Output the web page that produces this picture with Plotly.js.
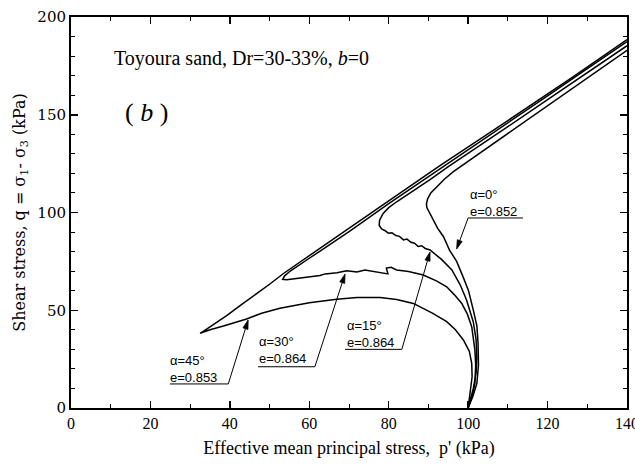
<!DOCTYPE html>
<html>
<head>
<meta charset="utf-8">
<script src="https://cdn.plot.ly/plotly-3.0.1.min.js"></script>
<style>html,body{margin:0;padding:0;background:#fff;}#chart{width:635px;height:465px;}</style>
</head>
<body>
<div id="chart"></div>
<script>
// Stress paths: effective mean principal stress p' (kPa) and shear stress q (kPa)
const alpha0_p = [100, 101.2, 102.2, 102.6, 102.5, 102.2, 101.3, 100.1, 98.7, 97.1, 95.3, 93.8, 92.3, 91.2, 90.2, 89.6, 89.5, 89.8, 90.6, 92.1, 94.0, 96.2, 98.8, 103.0, 110, 120, 130, 140];
const alpha0_q = [0, 6, 12.6, 22, 33.1, 42, 50.1, 60, 67.2, 75, 80.8, 87.6, 92, 96.2, 100, 102.5, 104.5, 107, 110, 113.2, 117, 120.8, 124.5, 130.5, 140.2, 154.3, 168.6, 183];

const alpha15_p = [100, 101.3, 102.0, 102.2, 102.0, 101.3, 99.6, 98.0, 95.9, 93.3, 90.4, 89.2, 88.3, 87.4, 86.5, 85.6, 84.6, 83.7, 82.7, 81.8, 80.8, 79.9, 79.0, 78.2, 77.6, 77.7, 78.6, 80.0, 82.0, 86.0, 90.4, 95.0, 100, 110, 120, 130, 140];
const alpha15_q = [0, 10, 18, 26, 35, 44, 55.2, 63, 70.6, 76, 80.8, 81.6, 83.0, 82.6, 84.3, 84.8, 86.4, 86.0, 87.8, 88.2, 89.6, 89.4, 90.8, 91.6, 93.5, 96, 99.5, 102.5, 105.5, 110.8, 116.8, 123.5, 130.2, 143.9, 157.7, 171.5, 185.3];

const alpha30_p = [100, 101.3, 101.7, 101.9, 101.7, 101.3, 100.9, 99.8, 98.4, 96.5, 94.6, 92.0, 88.7, 85.0, 82.0, 80.6, 79.4, 79.8, 78.6, 76.0, 74.0, 72.0, 69.4, 67.0, 64.0, 62.7, 60.0, 57.0, 54.3, 53.3, 53.8, 55.3, 57.7, 60.0, 63.0, 70.3, 80, 90, 100, 110, 120, 130, 140];
const alpha30_q = [0, 8, 12.6, 22, 29.7, 36, 41.6, 48, 53.5, 58, 62, 65, 68, 69.8, 70.6, 72.0, 71.6, 68.6, 69.0, 69.8, 70.6, 69.6, 70.2, 69.2, 68.6, 67.8, 67.2, 66.4, 65.6, 65.8, 67.6, 70.2, 73.6, 76.6, 80.6, 90.6, 104.5, 118.2, 132, 145.8, 159.7, 173.6, 187.4];

const alpha45_p = [100, 100.5, 101.0, 100.9, 100.3, 98.8, 96.8, 94.6, 91.0, 86.2, 82.0, 77.8, 72.0, 66.9, 60.0, 52.6, 48.0, 44.2, 41.0, 38.4, 35.0, 32.5, 33.5, 36.0, 39.2, 43.0, 46.8, 50.0, 53.5, 59.3, 67.7, 80, 92.9, 100, 110, 126.5, 140];
const alpha45_q = [0, 8, 16, 22.9, 29, 34.8, 40, 44.2, 48.5, 53.5, 55.5, 56.5, 56.5, 55.6, 53.8, 51, 48.5, 45.5, 43.3, 41.9, 40, 38.2, 39.5, 42.8, 47.3, 53, 58.5, 63.3, 68.8, 77, 89, 106, 124, 133.5, 147, 169.5, 188.4];

// Labels
const seriesNames = ["α=0°", "α=15°", "α=30°", "α=45°"];
const voidRatios = ["e=0.852", "e=0.864", "e=0.864", "e=0.853"];
const xTickVals = [0, 20, 40, 60, 80, 100, 120, 140];
const yTickVals = [0, 50, 100, 150, 200];

const lineStyle = {color: '#000', width: 1.5};
const traces = [
  {x: alpha0_p, y: alpha0_q, name: seriesNames[0]},
  {x: alpha15_p, y: alpha15_q, name: seriesNames[1]},
  {x: alpha30_p, y: alpha30_q, name: seriesNames[2]},
  {x: alpha45_p, y: alpha45_q, name: seriesNames[3]}
].map(t => Object.assign(t, {type: 'scatter', mode: 'lines', line: lineStyle, hoverinfo: 'skip'}));

// Label placement (data coords): text left x, text block centre y, underline, arrow tail -> tip
const labelPos = [
  {x: 100.0, yc: 105.0, u0: 100.0, u1: 113.8, uy: 97.2, tx: 100.0, ty: 97.2, hx: 97.1, hy: 81.3},
  {x: 69.0, yc: 38.0, u0: 69.0, u1: 83.3, uy: 30.0, tx: 83.3, ty: 30.0, hx: 90.4, hy: 79.8},
  {x: 46.8, yc: 29.5, u0: 47.1, u1: 61.4, uy: 21.1, tx: 61.4, ty: 21.1, hx: 69.0, hy: 68.5},
  {x: 24.4, yc: 20.0, u0: 24.9, u1: 39.6, uy: 12.3, tx: 39.6, ty: 12.3, hx: 44.6, hy: 45.0}
];

const X_RANGE = [0, 140], Y_RANGE = [0, 200];
const M = {l: 71, r: 8, t: 17, b: 57}, W = 635, H = 465;
const sx = (W - M.l - M.r) / (X_RANGE[1] - X_RANGE[0]);
const sy = (H - M.t - M.b) / (Y_RANGE[1] - Y_RANGE[0]);

const labFont = {family: 'Liberation Sans, Arial, sans-serif', size: 13, color: '#000'};
const annotations = [];
const shapes = [];
labelPos.forEach((L, i) => {
  annotations.push({x: L.x, y: L.yc, xref: 'x', yref: 'y', text: seriesNames[i] + '<br>' + voidRatios[i], align: 'left', showarrow: false, xanchor: 'left', yanchor: 'middle', font: labFont});
  shapes.push({type: 'line', xref: 'x', yref: 'y', x0: L.u0, x1: L.u1, y0: L.uy, y1: L.uy, line: {color: '#000', width: 1}});
  // arrow: shaft + filled head, computed in pixel space for correct shape
  const dx = (L.hx - L.tx) * sx, dy = (L.hy - L.ty) * sy;
  const len = Math.hypot(dx, dy), ux = dx / len, uy = dy / len;
  const hl = 9, hw = 2.6;
  const bx = -ux * hl, by = -uy * hl;
  const p1 = [L.hx + (bx - uy * hw) / sx, L.hy + (by + ux * hw) / sy];
  const p2 = [L.hx + (bx + uy * hw) / sx, L.hy + (by - ux * hw) / sy];
  const base = [L.hx + bx / sx, L.hy + by / sy];
  shapes.push({type: 'line', xref: 'x', yref: 'y', x0: L.tx, y0: L.ty, x1: base[0], y1: base[1], line: {color: '#000', width: 1}});
  shapes.push({type: 'path', xref: 'x', yref: 'y', path: `M ${L.hx} ${L.hy} L ${p1[0]} ${p1[1]} L ${p2[0]} ${p2[1]} Z`, fillcolor: '#000', line: {color: '#000', width: 0.8}});
});
annotations.push({x: 10.3, y: 179, xref: 'x', yref: 'y', text: 'Toyoura sand, Dr=30-33%, <i>b</i>=0', showarrow: false, xanchor: 'left', yanchor: 'middle', font: {family: 'Liberation Serif, Times New Roman, serif', size: 20, color: '#000'}});
annotations.push({x: 13.1, y: 151.4, xref: 'x', yref: 'y', text: '( <i>b</i> )', showarrow: false, xanchor: 'left', yanchor: 'middle', font: {family: 'Liberation Serif, Times New Roman, serif', size: 26, color: '#000'}});

const axisCommon = {
  showgrid: false, zeroline: false, showline: true, linecolor: '#000', linewidth: 2,
  mirror: 'ticks', ticks: 'inside', ticklen: 7, tickwidth: 1.5, tickcolor: '#000',
  ticklabeloverflow: 'allow'
};
const layout = {
  width: W, height: H,
  margin: M,
  paper_bgcolor: '#fff', plot_bgcolor: '#fff',
  showlegend: false,
  xaxis: Object.assign({}, axisCommon, {
    range: X_RANGE, tickvals: xTickVals,
    minor: {dtick: 10, ticks: 'inside', ticklen: 4, tickwidth: 1, tickcolor: '#000'},
    tickfont: {family: 'Liberation Serif, Times New Roman, serif', size: 16, color: '#000'},
    title: {text: "Effective mean principal stress,  p' (kPa)", standoff: 10, font: {family: 'Liberation Serif, Times New Roman, serif', size: 18, color: '#000'}}
  }),
  yaxis: Object.assign({}, axisCommon, {
    range: Y_RANGE, tickvals: yTickVals,
    minor: {dtick: 10, ticks: 'inside', ticklen: 4, tickwidth: 1, tickcolor: '#000'},
    tickfont: {family: 'DejaVu Serif, serif', size: 15, color: '#000'},
    title: {text: 'Shear stress, q = σ<sub>1</sub>- σ<sub>3</sub> (kPa)', standoff: 8, font: {family: 'DejaVu Serif, serif', size: 16, color: '#000'}}
  }),
  annotations: annotations,
  shapes: shapes
};
Plotly.newPlot('chart', traces, layout, {staticPlot: true, displayModeBar: false});
</script>
</body>
</html>
